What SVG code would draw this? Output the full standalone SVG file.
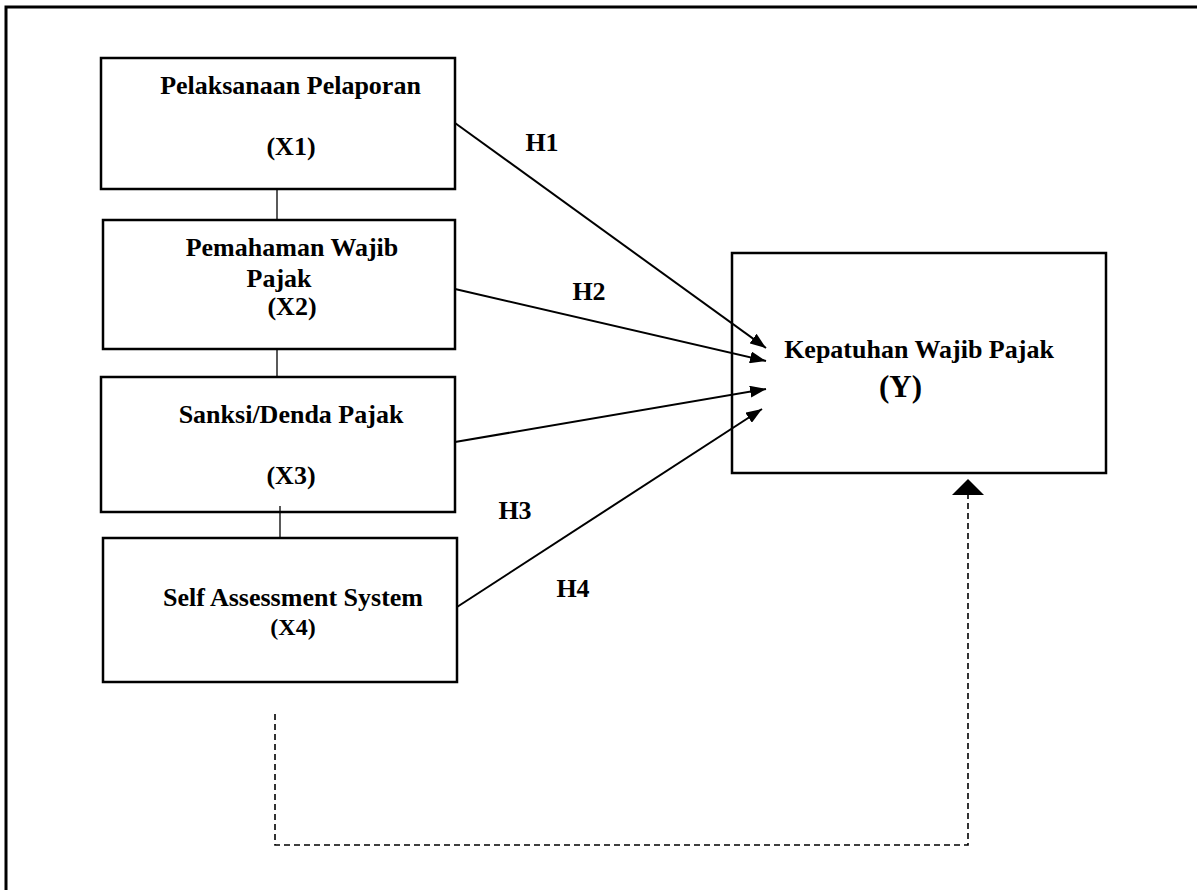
<svg xmlns="http://www.w3.org/2000/svg" width="1197" height="890" viewBox="0 0 1197 890">
<style>
.box{fill:#fff;stroke:#000;stroke-width:2.5}
.t{font-family:"Liberation Serif","Times New Roman",serif;font-weight:bold;font-size:26px;fill:#000;text-anchor:middle}
.link{stroke:#000;stroke-width:1.3;fill:none}
.arr{stroke:#000;stroke-width:2;fill:none;marker-end:url(#ah)}
.dash{stroke:#000;stroke-width:1.6;fill:none;stroke-dasharray:6 4}
</style>
<defs>
<marker id="ah" viewBox="0 0 16 12" refX="16" refY="6" markerWidth="16" markerHeight="12" markerUnits="userSpaceOnUse" orient="auto">
<path d="M0,0 L16,6 L0,12 Z" fill="#000"/>
</marker>
</defs>
<rect x="0" y="0" width="1197" height="890" fill="#fff"/>
<rect x="6" y="7" width="1200" height="900" fill="none" stroke="#000" stroke-width="3"/>
<g id="x1">
<rect class="box" x="101" y="58" width="354" height="131"/>
<text class="t" x="290.5" y="94">Pelaksanaan Pelaporan</text>
<text class="t" x="291" y="155">(X1)</text>
</g>
<g id="x2">
<rect class="box" x="103" y="220" width="352" height="129"/>
<text class="t" x="292" y="256">Pemahaman Wajib</text>
<text class="t" x="279" y="287">Pajak</text>
<text class="t" x="292" y="315">(X2)</text>
</g>
<g id="x3">
<rect class="box" x="101" y="377" width="354" height="135"/>
<text class="t" x="291" y="423">Sanksi/Denda Pajak</text>
<text class="t" x="291" y="484">(X3)</text>
</g>
<g id="x4">
<rect class="box" x="103" y="538" width="354" height="144"/>
<text class="t" x="293" y="606">Self Assessment System</text>
<text class="t" x="293" y="635" style="font-size:24px">(X4)</text>
</g>
<g id="y">
<rect class="box" x="732" y="253" width="374" height="220"/>
<text class="t" x="919" y="358">Kepatuhan Wajib Pajak</text>
<text class="t" x="900.5" y="397" style="font-size:31px">(Y)</text>
</g>
<g id="connectors">
<line class="link" x1="277" y1="190" x2="277" y2="219"/>
<line class="link" x1="277" y1="350" x2="277" y2="376"/>
<line class="link" x1="280" y1="506" x2="280" y2="537"/>
<line class="arr" x1="455" y1="123" x2="766" y2="348"/>
<line class="arr" x1="455" y1="289" x2="766" y2="361"/>
<line class="arr" x1="455" y1="442" x2="766" y2="389"/>
<line class="arr" x1="457" y1="607" x2="762" y2="409"/>
<polyline class="dash" points="275,714 275,845 968,845 968,495"/>
<path d="M968,479 L952,495 L984,495 Z" fill="#000"/>
<text class="t" x="542" y="151">H1</text>
<text class="t" x="589" y="300">H2</text>
<text class="t" x="515" y="519">H3</text>
<text class="t" x="573" y="597">H4</text>
</g>
</svg>
